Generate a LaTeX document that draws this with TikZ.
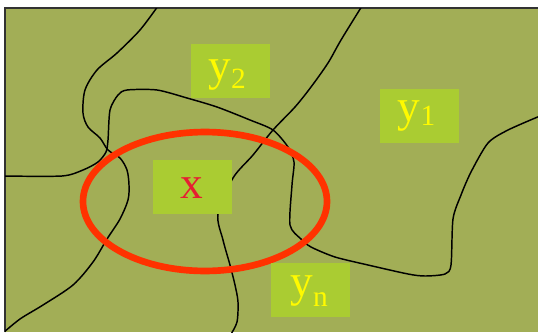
\documentclass[tikz,border=0pt]{standalone}
\usepackage{fontspec}
\setmainfont{Liberation Serif}
\definecolor{bggreen}{RGB}{162,174,86}
\definecolor{boxgreen}{RGB}{170,204,50}
\definecolor{txtyellow}{RGB}{255,250,0}
\definecolor{xred}{RGB}{230,30,50}
\definecolor{ringred}{RGB}{255,50,0}
\definecolor{framegray}{RGB}{50,50,50}
\newcommand{\lsub}[2]{\raisebox{-#1}{\fontsize{22pt}{22pt}\selectfont #2}}
\begin{document}
\begin{tikzpicture}[x=0.75pt,y=-0.75pt,
  boundary/.style={black, line width=1.1pt, line join=round, line cap=round},
  ring/.style={draw=ringred, line width=5pt},
  labelbox/.style={fill=boxgreen, minimum width=59.25pt, minimum height=40.5pt, inner sep=0pt},
  labeltext/.style={font=\fontsize{34pt}{34pt}\selectfont, text=txtyellow, anchor=base, inner sep=0pt}]
\useasboundingbox (0,0) rectangle (538,332);
\fill[white] (0,0) rectangle (538,332);
\fill[bggreen] (5,8) rectangle (538,332);
\draw[framegray, line width=1.5pt] (5,332) -- (5,8) -- (538,8);
\begin{scope}
\clip (5,8) rectangle (538,332);
% curve A
\draw[boundary] plot[smooth, tension=0.5] coordinates {(158,6) (140,30) (117,53) (97,70) (85,90) (83,113) (88,127) (100,138) (108,150) (120,158) (127,170) (129,185) (128,200) (120,219) (107,239) (93,262) (73,285) (43,305) (20,319) (3,333)};
% curve B
\draw[boundary] plot[smooth, tension=0.45] coordinates {(3,176) (62,176) (83,170) (98,162) (106,152) (108,140) (110,110) (118,95) (127,90) (157,90) (187,98) (217,107) (250,120) (273,130) (288,147) (294,162) (292,185) (290,225) (301,239) (311,247) (335,257) (368,265) (408,274) (425,276) (445,274) (451,265) (453,219) (461,195) (471,172) (488,143) (508,130) (540,116)};
% curve C
\draw[boundary] plot[smooth, tension=0.5] coordinates {(362,6) (341,40) (328,63) (311,87) (295,107) (273,130) (253,155) (233,178) (218,214) (223,240) (230,265) (235,285) (238,302) (237,322) (231,334)};
\end{scope}
\draw[ring] (205,201.5) ellipse [x radius=91.5pt, y radius=52.1pt];
\node[labelbox] (box2) at (230,70.5) {};
\node[labelbox] (box1) at (419.5,116) {};
\node[labelbox] (boxx) at (192.5,187) {};
\node[labelbox] (boxn) at (310.5,290) {};
\node[labeltext] (lab2) at (227,80) {y\lsub{6.5pt}{2}};
\node[labeltext] (lab1) at (416.5,121) {y\lsub{3pt}{1}};
\node[labeltext, text=xred] (labx) at (191.5,198.7) {x};
\node[labeltext] (labn) at (309,296) {y\lsub{7.5pt}{n}};
\end{tikzpicture}
\end{document}
